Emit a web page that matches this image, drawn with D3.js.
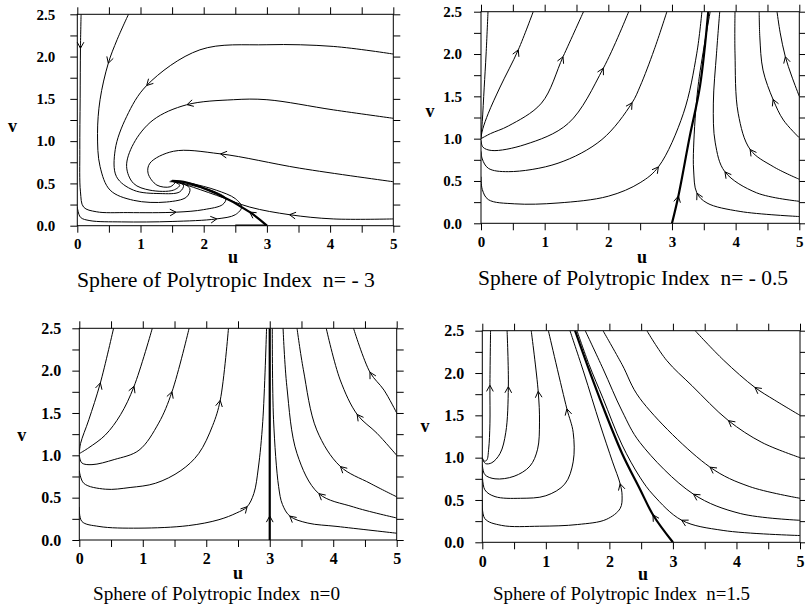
<!DOCTYPE html>
<html><head><meta charset="utf-8">
<script src="https://cdn.jsdelivr.net/npm/d3@7"></script>
<style>body{margin:0;background:#fff}svg{display:block}</style>
</head><body>
<svg id="c" width="805" height="608"></svg>
<script>
// ---------- tick values / labels ----------
const uTicks = [0, 1, 2, 3, 4, 5];
const uMinorTicks = [0.5, 1.5, 2.5, 3.5, 4.5];
const vTicks = [0, 0.5, 1, 1.5, 2, 2.5];
const vMinorTicks = [0.25, 0.75, 1.25, 1.75, 2.25];
const uTickLabels = ["0", "1", "2", "3", "4", "5"];
const vTickLabels = ["0.0", "0.5", "1.0", "1.5", "2.0", "2.5"];
const titles = ["Sphere of Polytropic Index  n= - 3", "Sphere of Polytropic Index  n= - 0.5",
                "Sphere of Polytropic Index  n=0", "Sphere of Polytropic Index  n=1.5"];

// ---------- n = -3 trajectories (u, v), in flow order ----------
const nm3_c1 = [[0.06,2.5],[0.05,2.1],[0.045,1.5],[0.04,0.9],[0.05,0.4],[0.1,0.22],[0.3,0.165],[0.8,0.155],[1.57,0.16],[2.0,0.19],[2.3,0.25],[2.35,0.32],[2.15,0.41],[1.85,0.47],[1.55,0.52]];
const nm3_c2 = [[0.81,2.5],[0.63,2.2],[0.49,1.92],[0.36,1.49],[0.32,1.09],[0.36,0.70],[0.52,0.42],[0.89,0.30],[1.41,0.28],[1.73,0.34],[1.78,0.44],[1.62,0.51],[1.46,0.52]];
const nm3_c3 = [[5,2.03],[4.05,2.12],[3.0,2.14],[1.94,2.08],[1.10,1.66],[0.78,1.29],[0.60,0.90],[0.62,0.58],[0.89,0.42],[1.31,0.38],[1.62,0.40],[1.68,0.48],[1.48,0.53]];
const nm3_c4 = [[5,1.27],[4.05,1.37],[3.0,1.49],[2.47,1.49],[1.73,1.43],[1.20,1.25],[0.89,0.97],[0.78,0.70],[0.89,0.50],[1.15,0.42],[1.52,0.42],[1.62,0.48],[1.48,0.53]];
const nm3_c5 = [[5,0.52],[3.52,0.68],[2.26,0.85],[1.52,0.88],[1.15,0.74],[1.12,0.62],[1.26,0.48],[1.47,0.46],[1.55,0.51]];
const nm3_c6 = [[5,0.08],[4.05,0.08],[3.36,0.13],[2.73,0.22],[2.2,0.36],[1.73,0.48],[1.5,0.53]];
const nm3_c7 = [[3,0],[2.73,0.16],[2.2,0.38],[1.73,0.51],[1.5,0.53]];
const nm3_c8 = [[0,0.22],[0.05,0.1],[0.2,0.06],[0.7,0.045],[1.5,0.05],[2.2,0.08],[2.5,0.13],[2.6,0.22],[2.5,0.32],[2.2,0.42],[1.8,0.5],[1.55,0.53]];
const nm3_c9 = [[2.5,0],[3,0]];
const nm3_arrows = [[0.05,2.1],[1.57,0.16],[0.49,1.92],[1.10,1.66],[1.73,1.43],[2.26,0.85],[3.36,0.13],[2.73,0.16],[2.2,0.08]];

// ---------- n = -0.5 ----------
const nm05_l0 = [[0.0,1.0],[0.02,1.2],[0.05,1.6],[0.08,2.0],[0.11,2.5]];
const nm05_l1 = [[0.0,1.02],[0.03,1.12],[0.115,1.30],[0.30,1.61],[0.586,2.05],[0.82,2.5]];
const nm05_l2 = [[0.0,1.0],[0.15,1.06],[0.43,1.15],[0.95,1.42],[1.29,1.97],[1.61,2.5]];
const nm05_l3 = [[0.0,0.98],[0.03,0.9],[0.17,0.86],[0.69,0.93],[1.37,1.18],[1.92,1.83],[2.32,2.5]];
const nm05_l4 = [[0.0,0.85],[0.02,0.76],[0.115,0.65],[0.43,0.61],[1.21,0.71],[1.90,0.99],[2.37,1.42],[2.5,1.62],[2.72,2.05],[2.92,2.5]];
const nm05_l5 = [[0.0,0.55],[0.02,0.40],[0.115,0.28],[0.53,0.23],[1.21,0.24],[2.0,0.32],[2.5,0.48],[2.79,0.67],[3.18,1.30],[3.39,2.01],[3.47,2.5]];
const nm05_s = [[3.0,0],[3.10,0.32],[3.28,1.03],[3.44,1.62],[3.57,2.5]];
const nm05_r1 = [[5,0.08],[4.07,0.14],[3.55,0.24],[3.39,0.36],[3.34,0.63],[3.34,0.9],[3.41,1.62],[3.6,2.5]];
const nm05_r2 = [[5,0.26],[4.33,0.36],[3.83,0.61],[3.68,0.95],[3.65,1.42],[3.70,2.01],[3.75,2.5]];
const nm05_r3 = [[5,0.52],[4.59,0.67],[4.23,0.87],[4.04,1.30],[3.99,2.01],[3.99,2.5]];
const nm05_r4 = [[5,1.01],[4.75,1.22],[4.59,1.46],[4.43,1.81],[4.38,2.2],[4.37,2.5]];
const nm05_r5 = [[5,1.5],[4.88,1.74],[4.78,1.97],[4.70,2.25],[4.65,2.5]];
const nm05_arrows = [[0.586,2.05],[1.29,1.97],[1.92,1.83],[2.37,1.42],[2.79,0.67],[3.10,0.32],[3.39,0.36],[3.83,0.61],[4.23,0.87],[4.59,1.46],[4.78,1.97]];

// ---------- n = 0 ----------
const n0_a1 = [[0,1.02],[0.02,1.14],[0.15,1.42],[0.33,1.85],[0.54,2.5]];
const n0_a2 = [[0,1.02],[0.15,1.09],[0.41,1.24],[0.65,1.48],[0.86,1.81],[1.15,2.5]];
const n0_a3 = [[0,1.0],[0.04,0.91],[0.2,0.89],[0.55,0.95],[0.94,1.06],[1.25,1.38],[1.46,1.75],[1.73,2.5]];
const n0_a4 = [[0,0.82],[0.07,0.67],[0.41,0.60],[0.8,0.62],[1.2,0.67],[1.6,0.82],[1.88,1.02],[2.1,1.35],[2.22,1.65],[2.35,2.5]];
const n0_a5 = [[0,0.39],[0.04,0.22],[0.31,0.16],[0.94,0.14],[1.72,0.17],[2.2,0.24],[2.48,0.32],[2.64,0.39],[2.75,0.55],[2.82,0.85],[2.89,1.4],[2.95,2.5]];
const n0_s = [[3,0],[3,2.5]];
const n0_b1 = [[5,0.08],[4.06,0.16],[3.6,0.2],[3.32,0.28],[3.2,0.42],[3.14,0.63],[3.06,1.42],[3.04,2.5]];
const n0_b2 = [[5,0.26],[4.32,0.39],[3.77,0.55],[3.43,1.02],[3.27,1.81],[3.21,2.5]];
const n0_b3 = [[5,0.51],[4.58,0.67],[4.11,0.87],[3.74,1.30],[3.53,2.01],[3.43,2.5]];
const n0_b4 = [[5,1.0],[4.69,1.26],[4.38,1.48],[4.11,1.89],[3.89,2.5]];
const n0_b5 = [[5,1.5],[4.80,1.77],[4.58,1.98],[4.32,2.5]];
const n0_arrows = [[0.33,1.85],[0.86,1.81],[1.46,1.75],[2.22,1.65],[2.64,0.39],[3,0.28],[3.32,0.28],[3.77,0.55],[4.11,0.87],[4.38,1.48],[4.58,1.98]];

// ---------- n = 1.5 ----------
const n15_e1 = [[0,1.0],[0.03,0.96],[0.07,0.97],[0.10,1.1],[0.12,1.4],[0.12,1.85],[0.13,2.5]];
const n15_e2 = [[0,0.99],[0.05,0.93],[0.15,0.94],[0.28,1.05],[0.37,1.3],[0.41,1.84],[0.39,2.5]];
const n15_e3 = [[0,0.92],[0.04,0.8],[0.2,0.75],[0.5,0.78],[0.75,0.9],[0.87,1.1],[0.9,1.42],[0.88,1.78],[0.77,2.5]];
const n15_e4 = [[0,0.85],[0.04,0.62],[0.2,0.54],[0.6,0.52],[1.0,0.55],[1.3,0.69],[1.43,0.95],[1.43,1.3],[1.33,1.58],[1.04,2.5]];
const n15_e5 = [[0,0.5],[0.04,0.28],[0.3,0.2],[0.9,0.19],[1.5,0.21],[1.95,0.27],[2.17,0.4],[2.2,0.55],[2.17,0.69],[2.05,0.95],[1.85,1.4],[1.6,2.0],[1.38,2.5]];
const n15_s = [[3,0],[2.69,0.32],[2.48,0.63],[2.2,1.05],[1.9,1.6],[1.65,2.1],[1.46,2.5]];
const n15_f1 = [[5,0.08],[3.79,0.14],[3.14,0.26],[2.69,0.56],[2.48,0.77],[2.2,1.15],[1.9,1.7],[1.68,2.1],[1.49,2.5]];
const n15_f2 = [[5,0.26],[4.06,0.34],[3.32,0.57],[2.48,1.18],[2.2,1.55],[1.9,2.05],[1.62,2.5]];
const n15_f3 = [[5,0.52],[4.2,0.66],[3.58,0.89],[2.48,1.70],[2.2,2.1],[1.90,2.5]];
const n15_f4 = [[5,1.0],[4.4,1.18],[3.87,1.44],[3.3,1.85],[2.9,2.15],[2.59,2.5]];
const n15_f5 = [[5,1.5],[4.6,1.68],[4.29,1.83],[3.8,2.15],[3.35,2.5]];
const n15_arrows = [[0.12,1.85],[0.41,1.84],[0.88,1.78],[1.33,1.58],[2.17,0.69],[2.69,0.32],[3.14,0.26],[3.32,0.57],[3.58,0.89],[3.87,1.44],[4.29,1.83]];

// ---------- layout (pixels, styles) ----------
const panels = [
  {x0:77.3, x1:393.3, y0:225.7, y1:14.3, curves:[nm3_c1,nm3_c2,nm3_c3,nm3_c4,nm3_c5,nm3_c6,nm3_c7,nm3_c8,nm3_c9], thick:[6,8], arrows:nm3_arrows,
   title:titles[0], tx:77, ty:287, tw:298, tfs:21.5, ux:233, uy:263, vx:12.5, vy:132, lpad:15, bpad:6, tickFs:15},
  {x0:481, x1:799.3, y0:223.3, y1:11.7, curves:[nm05_l0,nm05_l1,nm05_l2,nm05_l3,nm05_l4,nm05_l5,nm05_s,nm05_r1,nm05_r2,nm05_r3,nm05_r4,nm05_r5], thick:[6], arrows:nm05_arrows,
   title:titles[1], tx:478, ty:285, tw:310, tfs:21.5, ux:642, uy:263, vx:430, vy:117, lpad:12, bpad:6, tickFs:15},
  {x0:79.3, x1:396.7, y0:540, y1:328.3, curves:[n0_a1,n0_a2,n0_a3,n0_a4,n0_a5,n0_s,n0_b1,n0_b2,n0_b3,n0_b4,n0_b5], thick:[5], arrows:n0_arrows,
   title:titles[2], tx:93, ty:600, tw:247, tfs:19.2, ux:238, uy:579, vx:21.7, vy:441, lpad:11, bpad:6, tickFs:16},
  {x0:482.3, x1:800, y0:542.3, y1:330.7, curves:[n15_e1,n15_e2,n15_e3,n15_e4,n15_e5,n15_s,n15_f1,n15_f2,n15_f3,n15_f4,n15_f5], thick:[5], arrows:n15_arrows,
   title:titles[3], tx:493, ty:600, tw:257, tfs:19, ux:643, uy:580, vx:425, vy:432, lpad:11, bpad:6, tickFs:16}
];

const svg = d3.select("#c");
const FONT = "'Liberation Serif','Times New Roman',serif";

panels.forEach((p, pi) => {
  const x = d3.scaleLinear().domain([0, 5]).range([p.x0, p.x1]);
  const y = d3.scaleLinear().domain([0, 2.5]).range([p.y0, p.y1]);
  const g = svg.append("g");
  const clipId = "clip" + pi;
  svg.append("clipPath").attr("id", clipId).append("rect")
    .attr("x", p.x0).attr("y", p.y1).attr("width", p.x1 - p.x0).attr("height", p.y0 - p.y1);

  // axes
  const styleAxis = sel => { sel.select(".domain").remove(); sel.selectAll("line").attr("stroke", "#000").attr("stroke-width", 1);
    sel.selectAll("text").attr("font-family", FONT).attr("font-size", p.tickFs).attr("font-weight", "bold").attr("fill", "#000"); };
  g.append("g").attr("transform", `translate(0,${p.y0})`)
    .call(d3.axisBottom(x).tickValues(uTicks).tickSize(7).tickPadding(p.bpad).tickFormat((d, i) => uTickLabels[i])).call(styleAxis);
  g.append("g").attr("transform", `translate(0,${p.y0})`)
    .call(d3.axisBottom(x).tickValues(uMinorTicks).tickSize(7).tickFormat("")).call(styleAxis);
  g.append("g").attr("transform", `translate(${p.x0},0)`)
    .call(d3.axisLeft(y).tickValues(vTicks).tickSize(7).tickPadding(p.lpad).tickFormat((d, i) => vTickLabels[i])).call(styleAxis);
  g.append("g").attr("transform", `translate(${p.x0},0)`)
    .call(d3.axisLeft(y).tickValues(vMinorTicks).tickSize(7).tickFormat("")).call(styleAxis);
  g.append("g").attr("transform", `translate(0,${p.y1})`)
    .call(d3.axisTop(x).tickValues(uTicks.concat(uMinorTicks)).tickSize(7).tickFormat("")).call(styleAxis);
  g.append("g").attr("transform", `translate(${p.x1},0)`)
    .call(d3.axisRight(y).tickValues(vTicks.concat(vMinorTicks)).tickSize(7).tickFormat("")).call(styleAxis);

  g.append("rect").attr("x", p.x0).attr("y", p.y1).attr("width", p.x1 - p.x0).attr("height", p.y0 - p.y1)
    .attr("fill", "none").attr("stroke", "#000").attr("stroke-width", 1);

  // trajectories
  const line = d3.line().x(d => x(d[0])).y(d => y(d[1])).curve(d3.curveCatmullRom.alpha(0.5));
  const cg = g.append("g").attr("clip-path", `url(#${clipId})`);
  const nodes = p.curves.map((c, i) => cg.append("path").attr("d", line(c)).attr("fill", "none")
    .attr("stroke", "#000").attr("stroke-width", p.thick.includes(i) ? 2.2 : 1).node());

  // arrowheads (open chevrons) placed on nearest trajectory, oriented along flow
  p.arrows.forEach(a => {
    const px = x(a[0]), py = y(a[1]);
    let best = {d: Infinity};
    nodes.forEach(n => {
      const L = n.getTotalLength();
      for (let s = 0; s <= L; s += 1) {
        const q = n.getPointAtLength(s);
        const d = (q.x - px) ** 2 + (q.y - py) ** 2;
        if (d < best.d) best = {d, n, s, L, q};
      }
    });
    const p0 = best.n.getPointAtLength(Math.max(0, best.s - 3));
    const p1 = best.n.getPointAtLength(Math.min(best.L, best.s + 3));
    const ang = Math.atan2(p1.y - p0.y, p1.x - p0.x);
    const tip = best.q, len = 7, spread = 0.5;
    const pts = [[tip.x - len * Math.cos(ang - spread), tip.y - len * Math.sin(ang - spread)],
                 [tip.x, tip.y],
                 [tip.x - len * Math.cos(ang + spread), tip.y - len * Math.sin(ang + spread)]];
    g.append("path").attr("d", d3.line()(pts)).attr("fill", "none").attr("stroke", "#000").attr("stroke-width", 1);
  });

  // labels
  g.append("text").attr("x", p.ux).attr("y", p.uy).attr("text-anchor", "middle").attr("font-family", FONT)
    .attr("font-weight", "bold").attr("font-size", 18).text("u");
  g.append("text").attr("x", p.vx).attr("y", p.vy).attr("text-anchor", "middle").attr("font-family", FONT)
    .attr("font-weight", "bold").attr("font-size", 18).text("v");
  g.append("text").attr("x", p.tx).attr("y", p.ty).attr("font-family", FONT).attr("font-size", p.tfs)
    .style("white-space", "pre").attr("textLength", p.tw).attr("lengthAdjust", "spacingAndGlyphs").text(p.title);
});
</script>
</body></html>
